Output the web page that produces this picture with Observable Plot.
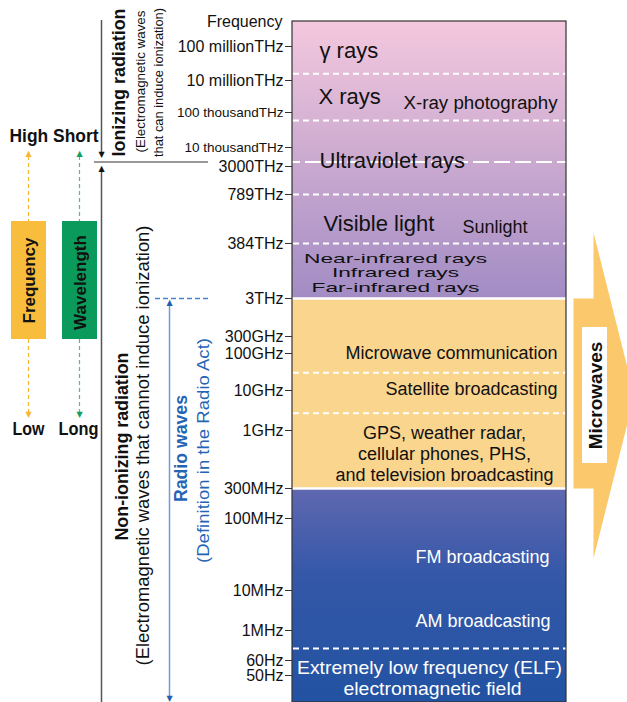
<!DOCTYPE html>
<html><head><meta charset="utf-8">
<script src="https://cdn.jsdelivr.net/npm/d3@7"></script>
<script src="https://cdn.jsdelivr.net/npm/@observablehq/plot@0.6"></script>
<style>html,body{margin:0;padding:0;background:#fff}</style>
</head><body><div id="chart"></div>
<script>
// ---- data ----
const tickLabels = ["100 millionTHz","10 millionTHz","100 thousandTHz","10 thousandTHz","3000THz","789THz","384THz","3THz","300GHz","100GHz","10GHz","1GHz","300MHz","100MHz","10MHz","1MHz","60Hz","50Hz"];
const tickHz = [1e20,1e19,1e17,1e16,3e15,7.89e14,3.84e14,3e12,3e11,1e11,1e10,1e9,3e8,1e8,1e7,1e6,60,50];

// band edges (log10 Hz)
const bandNames = ["optical","microwave","radio"];
const bandTop = [20.8, 12.477, 8.477];
const bandBottom = [12.477, 8.477, 1.0];

// divider lines (log10 Hz)
const dashedLines = [19.2, 16.77, 14.897, 14.584, 10.477, 9.43, 3.477];
const ionizingLine = [15.6];
const solidLines = [12.477, 8.477];

// labels inside the spectrum column (position as log10 Hz)
const bandLabelText = ["γ rays","X rays","X-ray photography","Ultraviolet rays","Visible light","Sunlight","Near-infrared rays","Infrared rays","Far-infrared rays","Microwave communication","Satellite broadcasting","GPS, weather radar,","cellular phones, PHS,","and television broadcasting","FM broadcasting","AM broadcasting","Extremely low frequency (ELF)","electromagnetic field"];
const bandLabelAt = [19.88, 18.0, 17.56, 15.63, 14.712, 14.686, 14.01, 13.45, 12.9, 11.0, 10.03, 8.973, 8.79, 8.6, 7.46, 6.225, 1.74, 1.36];

// ---- scale: the chart's schematic (non-uniform) frequency axis ----
const axisLog = [20.8, 20, 19, 17, 16, 15.477, 14.897, 14.584, 12.477, 11.477, 11, 10, 9, 8.477, 8, 7, 6, 1.778, 1.699, 1.0];
const axisPx  = [21, 46, 80, 112, 147, 166, 194, 243, 298, 336, 353, 390, 430, 488, 518, 590, 630, 660, 675, 702];
const freqAxis = d3.scaleLinear().domain(axisLog).range(axisPx);   // piecewise mapping used by Plot's y scale
const yAt = d3.scaleLinear().domain(axisPx).range(axisLog);        // layout helper for annotations

const ticks = tickLabels.map((t, i) => ({label: t, v: Math.log10(tickHz[i])}));
const bands = bandNames.map((n, i) => ({name: n, top: bandTop[i], bottom: bandBottom[i]}));
const bandLabels = bandLabelText.map((t, i) => ({text: t, at: bandLabelAt[i]}));

// ---- styles ----
const SANS = "'Liberation Sans', Arial, Helvetica, sans-serif";
const bandFill = {optical: "url(#gOpt)", microwave: "#fad58e", radio: "url(#gRadio)"};
const X0 = 292, X1 = 566;
const L = {
  "γ rays": {x: 319, a: "start", s: 22},
  "X rays": {x: 318, a: "start", s: 22},
  "X-ray photography": {x: 403, a: "start", s: 18},
  "Ultraviolet rays": {x: 319, a: "start", s: 22},
  "Visible light": {x: 323, a: "start", s: 22},
  "Sunlight": {x: 462, a: "start", s: 18},
  "Near-infrared rays": {x: 395, a: "middle", s: 13.5},
  "Infrared rays": {x: 395, a: "middle", s: 13.5},
  "Far-infrared rays": {x: 395, a: "middle", s: 13.5},
  "Microwave communication": {x: 557, a: "end", s: 18},
  "Satellite broadcasting": {x: 557, a: "end", s: 18},
  "GPS, weather radar,": {x: 444, a: "middle", s: 18},
  "cellular phones, PHS,": {x: 444, a: "middle", s: 18},
  "and television broadcasting": {x: 444, a: "middle", s: 18},
  "FM broadcasting": {x: 549, a: "end", s: 18, c: "#fff"},
  "AM broadcasting": {x: 550, a: "end", s: 18, c: "#fff"},
  "Extremely low frequency (ELF)": {x: 429, a: "middle", s: 18.5, c: "#fff"},
  "electromagnetic field": {x: 432, a: "middle", s: 18.5, c: "#fff"}
};
// rendered widths of condensed / expanded lettering (px)
const FIT = {
  "X-ray photography": 154,
  "Near-infrared rays": 183, "Infrared rays": 127, "Far-infrared rays": 168,
  "Extremely low frequency (ELF)": 265, "electromagnetic field": 178,
  "Ionizing radiation": 148, "(Electromagnetic waves": 142, "that can induce ionization)": 149,
  "Non-ionizing radiation": 188, "(Electromagnetic waves that cannot induce ionization)": 440,
  "Radio waves": 107, "(Definition in the Radio Act)": 225,
  "High Short": 89, "Low": 32, "Long": 40
};

const rotText = (x, py, text, o) => Plot.text([text], {x: () => x, y: () => yAt(py), text: d => d, rotate: -90, fontFamily: SANS, fontSize: o.s, fontWeight: o.b ? "bold" : "normal", fill: o.c || "#111"});
const txt = (x, py, text, o) => Plot.text([text], {x: () => x, y: () => yAt(py), text: d => d, textAnchor: o.a || "middle", fontFamily: SANS, fontSize: o.s, fontWeight: o.b ? "bold" : "normal", fill: o.c || "#111"});
const tri = (x, py, down, color) => Plot.text([down ? "▼" : "▲"], {x: () => x, y: () => yAt(py), text: d => d, fontSize: 8, fontFamily: "DejaVu Sans", fill: color});
const vline = (x, p1, p2, o) => Plot.ruleX([x], {y1: () => yAt(p1), y2: () => yAt(p2), stroke: o.c, strokeWidth: o.w || 1.5, strokeDasharray: o.d});
const box = (x1, x2, p1, p2, fill) => Plot.rect([0], {x1: () => x1, x2: () => x2, y1: () => yAt(p1), y2: () => yAt(p2), fill});

const arrowPts = [
  {x: 573, y: bandTop[1]}, {x: 593, y: bandTop[1]}, {x: 593, y: yAt(232)}, {x: 634, y: yAt(395)},
  {x: 593, y: yAt(558)}, {x: 593, y: bandBottom[1]}, {x: 573, y: bandBottom[1]}
];

const marks = [
  ...bands.map(b => Plot.rect([b], {x1: () => X0, x2: () => X1, y1: "top", y2: "bottom", fill: bandFill[b.name]})),
  Plot.ruleY(dashedLines, {x1: () => X0 + 1, x2: () => X1, stroke: "#fff", strokeWidth: 2, strokeDasharray: "6,4"}),
  Plot.ruleY(ionizingLine, {x1: () => 284, x2: () => X1, stroke: "#fff", strokeWidth: 2, strokeDasharray: "16,5"}),
  Plot.ruleY(solidLines, {x1: () => X0, x2: () => X1, stroke: "#fff", strokeWidth: 2.5}),
  Plot.rect([0], {x1: () => X0, x2: () => X1, y1: () => bandTop[0], y2: () => bandBottom[2], fill: "none", stroke: "#333", strokeWidth: 1.2}),
  // frequency axis
  Plot.ruleY(ticks, {y: "v", x1: () => 285, x2: () => X0, stroke: "#333"}),
  Plot.text(ticks.filter(d => !d.label.includes("thousand")), {x: () => 283, y: "v", text: "label", textAnchor: "end", fontFamily: SANS, fontSize: 16, fill: "#111"}),
  Plot.text(ticks.filter(d => d.label.includes("thousand")), {x: () => 283, y: "v", text: "label", textAnchor: "end", fontFamily: SANS, fontSize: 13.5, fill: "#111"}),
  txt(282, 21, "Frequency", {a: "end", s: 16}),
  // band labels
  ...bandLabels.map(d => Plot.text([d], {x: () => L[d.text].x, y: "at", text: "text", textAnchor: L[d.text].a, fontFamily: SANS, fontSize: L[d.text].s, fill: L[d.text].c || "#111"})),
  // microwave arrow
  Plot.line(arrowPts, {x: "x", y: "y", fill: "#fbc96c", stroke: "none"}),
  box(582, 607, 327, 463, "#fff"),
  rotText(595, 395, "Microwaves", {s: 19, b: true}),
  // ionizing / non-ionizing divider
  Plot.ruleY(ionizingLine, {x1: () => 94, x2: () => 208, stroke: "#777", strokeWidth: 1.5}),
  vline(101, 20, 152, {c: "#555"}),
  vline(101, 170, 702, {c: "#555"}),
  tri(101, 154, true, "#111"),
  tri(101, 168, false, "#111"),
  rotText(118, 82, "Ionizing radiation", {s: 19, b: true}),
  rotText(140, 81, "(Electromagnetic waves", {s: 13.5}),
  rotText(158, 82, "that can induce ionization)", {s: 13.5}),
  rotText(121, 446, "Non-ionizing radiation", {s: 19, b: true}),
  rotText(143, 445, "(Electromagnetic waves that cannot induce ionization)", {s: 17.5}),
  // radio waves
  Plot.ruleY([12.477], {x1: () => 155, x2: () => 208, stroke: "#4a84cc", strokeWidth: 1.3, strokeDasharray: "5,3"}),
  vline(169, 303, 698, {c: "#6f9dd8", w: 1.5}),
  tri(169, 302, false, "#1f5fae"),
  tri(169, 698, true, "#1f5fae"),
  rotText(181, 448, "Radio waves", {s: 18, b: true, c: "#2464b4"}),
  rotText(203, 450, "(Definition in the Radio Act)", {s: 17, c: "#2464b4"}),
  // frequency / wavelength legend
  vline(28, 156, 221, {c: "#f7b733", w: 1.2, d: "4,3"}),
  vline(28, 339, 412, {c: "#f7b733", w: 1.2, d: "4,3"}),
  tri(28, 153, false, "#f7b733"),
  tri(28, 414, true, "#f7b733"),
  vline(79, 156, 221, {c: "#4cc08a", w: 1.2, d: "4,3"}),
  vline(79, 339, 412, {c: "#4cc08a", w: 1.2, d: "4,3"}),
  tri(79, 153, false, "#12a060"),
  tri(79, 414, true, "#12a060"),
  box(11, 46, 221, 339, "#f9bd3d"),
  box(62, 97, 221, 339, "#0a9b5c"),
  rotText(29, 280, "Frequency", {s: 17, b: true}),
  rotText(80, 282, "Wavelength", {s: 17, b: true}),
  txt(9, 136, "High Short", {a: "start", s: 18, b: true}),
  txt(12, 429, "Low", {a: "start", s: 18, b: true}),
  txt(98, 429, "Long", {a: "end", s: 18, b: true})
];

const svg = Plot.plot({
  width: 627, height: 702,
  marginTop: 0, marginRight: 0, marginBottom: 0, marginLeft: 0,
  x: {domain: [0, 627], range: [0, 627], axis: null},
  y: {transform: freqAxis, domain: [0, 702], range: [0, 702], axis: null},
  style: {background: "#fff", overflow: "hidden"},
  marks
});

// gradients
const defs = d3.select(svg).insert("defs", ":first-child");
const grad = (id, stops) => {
  const g = defs.append("linearGradient").attr("id", id).attr("x1", 0).attr("y1", 0).attr("x2", 0).attr("y2", 1);
  stops.forEach(([o, c]) => g.append("stop").attr("offset", o).attr("stop-color", c));
};
grad("gOpt", [[0, "#f4c8de"], [0.5, "#cbaad0"], [1, "#a28cc4"]]);
grad("gRadio", [[0, "#6068b0"], [0.4, "#3558a8"], [1, "#2252a2"]]);

// condensed / stretched lettering
d3.select(svg).selectAll("text").each(function() {
  const t = this.textContent;
  if (FIT[t]) d3.select(this).attr("textLength", FIT[t]).attr("lengthAdjust", "spacingAndGlyphs");
});

document.getElementById("chart").append(svg);
</script>
</body></html>
